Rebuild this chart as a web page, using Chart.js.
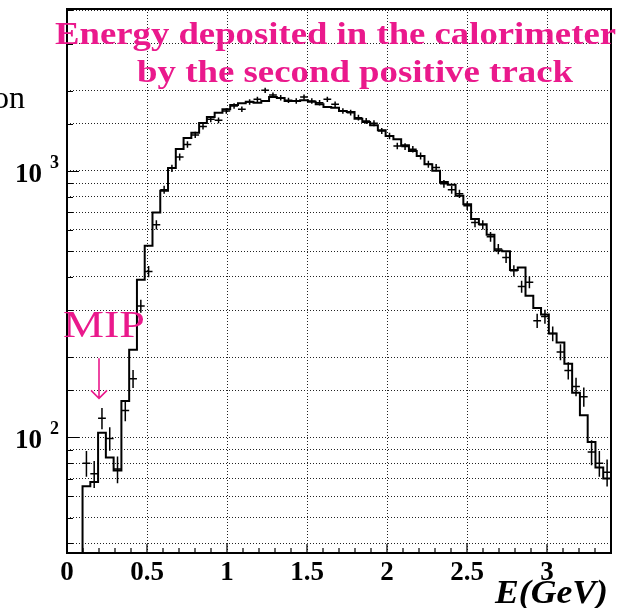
<!DOCTYPE html>
<html>
<head>
<meta charset="utf-8">
<script src="https://cdn.jsdelivr.net/npm/chart.js@4.4.1/dist/chart.umd.min.js"></script>
<style>
  html, body { margin: 0; padding: 0; background: #fff; }
  canvas { display: block; }
</style>
</head>
<body>
<canvas id="chart" width="635" height="608"></canvas>
<script>
// binning as booked: 70 bins over 0 - 3.4 GeV, first filled bin is #2
const N_BINS = 70;
const X_LOW = 0;
const X_HIGH = 3.4;
const FIRST_BIN = 2;

// simulation, solid histogram (bins 2..69)
const mcCounts = [
  65.5, 68, 104, 84, 75, 137, 213, 390, 524, 698,
  842, 1026, 1209, 1329, 1391, 1512, 1593, 1654, 1703, 1767,
  1793, 1818, 1802, 1829, 1893, 1877, 1829, 1829, 1840, 1818,
  1778, 1737, 1726, 1678, 1663, 1570, 1526, 1483, 1420, 1352,
  1315, 1248, 1188, 1138, 1059, 1000, 909, 886, 806, 750,
  659, 631, 576, 502, 499, 425, 434, 340, 306, 289,
  245, 227, 189, 147, 121, 96, 77, 70
];

// data, crosses (bins 2..69)
const dataCounts = [
  80, 73, 118, 99, 76, 126, 166, 311, 419, 628,
  850, 1023, 1128, 1257, 1364, 1468, 1561, 1548, 1678, 1752,
  1703, 1813, 1856, 2005, 1926, 1882, 1840, 1829, 1893, 1829,
  1802, 1856, 1778, 1678, 1654, 1584, 1539, 1509, 1412, 1352,
  1240, 1233, 1206, 1138, 1059, 1029, 894, 849, 820, 740,
  640, 628, 566, 509, 473, 422, 368, 382, 274, 284,
  245, 209, 178, 155, 142, 88, 80, 74
];
const dataErrors = [
  8.9, 8.5, 10.8, 10, 8.7, 11.2, 12.9, 17.6, 20.5, 25,
  29, 32, 33.6, 35.5, 36.9, 38.3, 39.5, 39.3, 41, 41.9,
  41.3, 42.6, 43.1, 44.8, 43.9, 43.4, 42.9, 42.8, 43.5, 42.8,
  42.4, 43.1, 42.2, 41, 40.7, 39.8, 39.2, 38.8, 37.6, 36.8,
  35.2, 35.1, 34.7, 33.7, 32.5, 32.1, 29.9, 29.1, 28.6, 27.2,
  25.3, 25.1, 23.8, 22.6, 21.7, 20.5, 19.2, 19.5, 16.6, 16.9,
  15.7, 14.5, 13.3, 12.4, 11.9, 9.4, 8.9, 8.6
];

const xTicks = [0, 0.5, 1, 1.5, 2, 2.5, 3];
const yDecades = [100, 1000];
const Y_MIN = 36.8;
const Y_MAX = 4050;

const PINK = '#ea198c';
const SERIF = '"Liberation Serif", "Times New Roman", serif';

const binWidth = (X_HIGH - X_LOW) / N_BINS;
const lowEdges = mcCounts.map((_, k) => X_LOW + (FIRST_BIN + k) * binWidth);

// step outline: rise from the axis floor, then one step per bin
const mcSteps = [{ x: lowEdges[0], y: Y_MIN }]
  .concat(mcCounts.map((v, k) => ({ x: lowEdges[k], y: v })))
  .concat([{ x: lowEdges[lowEdges.length - 1] + binWidth, y: mcCounts[mcCounts.length - 1] }]);

const dataPoints = dataCounts.map((v, k) => ({ x: lowEdges[k] + binWidth / 2, y: v }));

function fitText(ctx, text, font, left, baseline, width) {
  ctx.font = font;
  const w = ctx.measureText(text).width;
  ctx.save();
  ctx.translate(left, baseline);
  ctx.scale(width / w, 1);
  ctx.textAlign = 'left';
  ctx.textBaseline = 'alphabetic';
  ctx.fillText(text, 0, 0);
  ctx.restore();
}

const whiteBg = {
  id: 'whiteBg',
  beforeDraw(chart) {
    const c = chart.ctx;
    c.save();
    c.fillStyle = '#fff';
    c.fillRect(0, 0, chart.width, chart.height);
    c.restore();
  }
};

// data crosses: bin-wide horizontal bar, vertical statistical error
const errorBars = {
  id: 'errorBars',
  afterDatasetsDraw(chart) {
    const { ctx, chartArea, scales: { x, y } } = chart;
    const meta = chart.getDatasetMeta(1);
    ctx.save();
    ctx.beginPath();
    ctx.rect(chartArea.left, chartArea.top, chartArea.right - chartArea.left, chartArea.bottom - chartArea.top);
    ctx.clip();
    ctx.strokeStyle = '#000';
    ctx.lineWidth = 1.5;
    meta.data.forEach((pt, i) => {
      const d = dataPoints[i];
      const xl = x.getPixelForValue(d.x - binWidth / 2);
      const xr = x.getPixelForValue(d.x + binWidth / 2);
      const yHi = y.getPixelForValue(d.y + dataErrors[i]);
      const yLo = y.getPixelForValue(d.y - dataErrors[i]);
      ctx.beginPath();
      ctx.moveTo(xl, pt.y);
      ctx.lineTo(xr, pt.y);
      ctx.moveTo(pt.x, yHi);
      ctx.lineTo(pt.x, yLo);
      ctx.stroke();
    });
    ctx.restore();
  }
};

const frameAndText = {
  id: 'frameAndText',
  afterDraw(chart) {
    const { ctx, chartArea: a, scales: { x, y } } = chart;
    ctx.save();

    // frame
    ctx.strokeStyle = '#000';
    ctx.lineWidth = 2;
    ctx.strokeRect(a.left, a.top, a.right - a.left, a.bottom - a.top);

    // inward ticks, x every 0.1
    ctx.lineWidth = 1.2;
    ctx.beginPath();
    for (let k = 1; k < 34; k++) {
      const px = x.getPixelForValue(k / 10);
      const len = k % 5 === 0 ? 9 : 5;
      ctx.moveTo(px, a.bottom);
      ctx.lineTo(px, a.bottom - len);
    }
    // y ticks at each log step
    y.ticks.slice(1, -1).forEach(t => {
      const py = Math.round(y.getPixelForValue(t.value)) + 0.5;
      const len = yDecades.includes(t.value) ? 12 : 6;
      ctx.moveTo(a.left, py);
      ctx.lineTo(a.left + len, py);
    });
    ctx.stroke();

    // x tick labels
    ctx.fillStyle = '#000';
    ctx.font = 'bold 27px ' + SERIF;
    ctx.textAlign = 'center';
    ctx.textBaseline = 'alphabetic';
    xTicks.forEach(v => ctx.fillText(String(v), x.getPixelForValue(v), 580));

    // y decade labels 10^n
    yDecades.forEach(d => {
      const py = y.getPixelForValue(d);
      ctx.font = 'bold 27px ' + SERIF;
      ctx.textAlign = 'right';
      ctx.fillText('10', 42, py + 11);
      ctx.font = 'bold 18px ' + SERIF;
      ctx.textAlign = 'left';
      ctx.fillText(String(Math.round(Math.log10(d))), 50, py - 3);
    });

    // left-over piece of the y title
    ctx.font = '32px ' + SERIF;
    ctx.textAlign = 'right';
    ctx.fillText('on', 25, 108);

    // x axis title
    fitText(ctx, 'E(GeV)', 'bold italic 34px ' + SERIF, 495, 603, 113);

    // title
    ctx.fillStyle = PINK;
    fitText(ctx, 'Energy deposited in the calorimeter', 'bold 32px ' + SERIF, 55, 44, 561);
    fitText(ctx, 'by the second positive track', 'bold 32px ' + SERIF, 137, 82, 436);

    // MIP marker
    fitText(ctx, 'MIP', '37px ' + SERIF, 63, 337, 82);
    const ax = x.getPixelForValue(0.2);
    const aTop = y.getPixelForValue(198);
    const aTip = y.getPixelForValue(140);
    ctx.strokeStyle = PINK;
    ctx.lineWidth = 1.6;
    ctx.beginPath();
    ctx.moveTo(ax, aTop);
    ctx.lineTo(ax, aTip);
    ctx.moveTo(ax - 8, aTip - 8);
    ctx.lineTo(ax, aTip);
    ctx.lineTo(ax + 8, aTip - 8);
    ctx.stroke();

    ctx.restore();
  }
};

new Chart(document.getElementById('chart'), {
  data: {
    datasets: [
      {
        type: 'line',
        label: 'Simulation',
        data: mcSteps,
        stepped: true,
        borderColor: '#000',
        borderWidth: 2,
        pointRadius: 0,
        fill: false,
        tension: 0,
      },
      {
        type: 'scatter',
        label: 'Data',
        data: dataPoints,
        pointRadius: 0,
        borderColor: '#000',
        backgroundColor: '#000',
      },
    ],
  },
  options: {
    responsive: false,
    animation: false,
    events: [],
    layout: {
      padding: { left: 67, right: 24, top: 9, bottom: 55 },
    },
    scales: {
      x: {
        type: 'linear',
        min: X_LOW,
        max: X_HIGH,
        ticks: { display: false, stepSize: 0.5, includeBounds: false },
        grid: { color: '#222', lineWidth: 1, drawTicks: false },
        border: { display: false, dash: [1, 2] },
      },
      y: {
        type: 'logarithmic',
        min: Y_MIN,
        max: Y_MAX,
        ticks: { display: false },
        grid: { color: '#222', lineWidth: 1, drawTicks: false },
        border: { display: false, dash: [1, 2] },
      },
    },
    plugins: {
      legend: { display: false },
      tooltip: { enabled: false },
    },
  },
  plugins: [whiteBg, errorBars, frameAndText],
});
</script>
</body>
</html>
